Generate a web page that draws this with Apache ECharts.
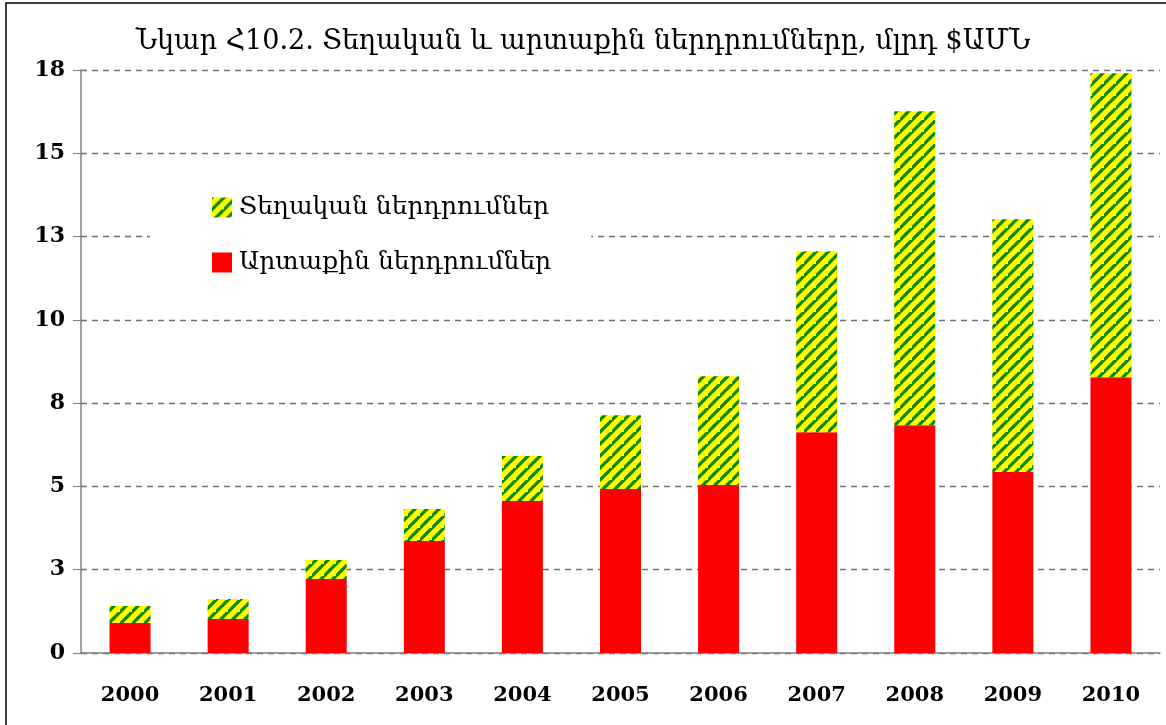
<!DOCTYPE html>
<html>
<head>
<meta charset="utf-8">
<script src="https://cdn.jsdelivr.net/npm/echarts@6/dist/echarts.min.js"></script>
<style>
  html, body { margin: 0; padding: 0; background: #fff; }
  #chart { width: 1166px; height: 725px; }
</style>
</head>
<body>
<div id="chart"></div>
<script>
// data, bln USD
var years = ['2000', '2001', '2002', '2003', '2004', '2005', '2006', '2007', '2008', '2009', '2010'];
var external = [0.90, 1.02, 2.22, 3.36, 4.56, 4.92, 5.04, 6.63, 6.84, 5.43, 8.28];
var local = [0.51, 0.60, 0.57, 0.96, 1.35, 2.22, 3.27, 5.43, 9.42, 7.59, 9.12];
var yTicks = [0, 2.5, 5, 7.5, 10, 12.5, 15, 17.5];

var nameLocal = 'Տեղական ներդրումներ';
var nameExternal = 'Արտաքին ներդրումներ';

// green / yellow diagonal stripes
function stripes() {
  var s = 12;
  var c = document.createElement('canvas');
  c.width = s; c.height = s;
  var ctx = c.getContext('2d');
  ctx.fillStyle = '#ffff00';
  ctx.fillRect(0, 0, s, s);
  ctx.strokeStyle = '#0a870a';
  ctx.lineWidth = 3.2;
  ctx.beginPath();
  ctx.moveTo(-2, s + 2); ctx.lineTo(s + 2, -2);
  ctx.moveTo(-s - 2, s + 2); ctx.lineTo(2, -2);
  ctx.moveTo(s - 2, 2 * s + 2); ctx.lineTo(2 * s + 2, s - 2);
  ctx.stroke();
  return { image: c, repeat: 'repeat' };
}

var chart = echarts.init(document.getElementById('chart'));
var font = '"DejaVu Serif", serif';

chart.setOption({
  animation: false,
  backgroundColor: '#fff',
  title: {
    text: 'Նկար Հ10.2. Տեղական և արտաքին ներդրումները, մլրդ $ԱՄՆ',
    left: 'center',
    top: 23,
    textStyle: { fontFamily: font, fontSize: 27, fontWeight: 'normal', color: '#000' }
  },
  graphic: [{
    type: 'rect',
    shape: { x: 6, y: 3, width: 1170, height: 740 },
    style: { fill: null, stroke: '#000', lineWidth: 1.5 },
    silent: true
  }],
  legend: {
    orient: 'vertical',
    left: 150,
    top: 181,
    padding: [14, 40, 14, 62],
    itemGap: 30,
    itemWidth: 20,
    itemHeight: 20,
    icon: 'rect',
    backgroundColor: '#fff',
    data: [nameLocal, nameExternal],
    textStyle: { fontFamily: font, fontSize: 25, color: '#000', padding: [0, 0, 0, 2] }
  },
  grid: { left: 81, right: 6, top: 70, bottom: 72 },
  xAxis: {
    type: 'category',
    data: years,
    axisLine: { lineStyle: { color: '#808080', width: 1.5 } },
    axisTick: { length: 8, lineStyle: { color: '#808080' } },
    axisLabel: { margin: 32, fontFamily: font, fontWeight: 'bold', fontSize: 21, color: '#000' }
  },
  yAxis: {
    type: 'value',
    min: 0,
    max: yTicks[yTicks.length - 1],
    interval: yTicks[1] - yTicks[0],
    axisLine: { show: true, lineStyle: { color: '#808080', width: 1.5 } },
    axisTick: { show: true, length: 8, lineStyle: { color: '#808080' } },
    axisLabel: {
      margin: 16, fontFamily: font, fontWeight: 'bold', fontSize: 22, color: '#000',
      formatter: function (v) { return String(Math.round(v)); }
    },
    splitLine: { lineStyle: { color: '#707070', type: [6, 5], width: 1.3 } }
  },
  series: [
    {
      name: nameExternal,
      type: 'bar',
      stack: 'total',
      barWidth: 41,
      data: external,
      itemStyle: { color: '#ff0000' }
    },
    {
      name: nameLocal,
      type: 'bar',
      stack: 'total',
      barWidth: 41,
      data: local,
      itemStyle: { color: stripes() }
    }
  ]
});
</script>
</body>
</html>
